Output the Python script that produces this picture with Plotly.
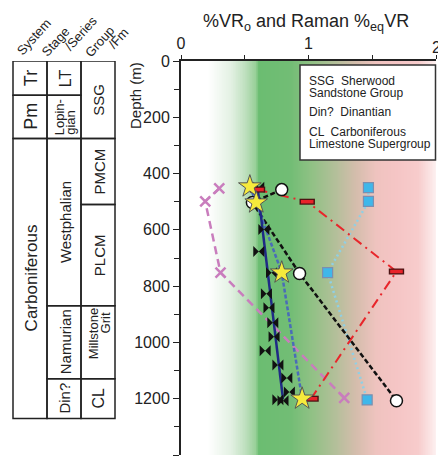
import numpy as np
import plotly.graph_objects as go

W, H = 438, 463

# ---- thermal maturity samples (%VR / Raman %eqVR vs depth in m) ----
star_vr = [0.54, 0.59, 0.79, 0.95]
star_depth = [446, 503, 752, 1200]

circle_vr = [0.79, 0.56, 0.93, 1.69]
circle_depth = [457, 503, 755, 1207]

rect_vr = [0.60, 0.99, 1.69, 1.02]
rect_depth = [457, 500, 748, 1200]

square_vr = [1.47, 1.47, 1.15, 1.46]
square_depth = [450, 499, 752, 1204]

cross_vr = [0.30, 0.19, 0.31, 1.28]
cross_depth = [453, 499, 752, 1197]

bowtie_vr = [0.61, 0.65, 0.61, 0.71, 0.67, 0.69, 0.72, 0.73, 0.66, 0.76,
             0.83, 0.85, 0.76, 0.80]
bowtie_depth = [449, 599, 677, 752, 827, 877, 930, 980, 1030, 1080,
                1126, 1176, 1204, 1207]

trend_vr = [0.60, 0.80]
trend_depth = [449, 1201]

x_ticks = [0, 1, 2]

# ---- stratigraphic column (unit tops / bases in m) ----
system_labels = [["Tr"], ["Pm"], ["Carboniferous"]]
system_tops = [0, 122, 275]
system_bases = [122, 275, 1270]

stage_labels = [["LT"], ["Lopin-", "gian"], ["Westphalian"], ["Namurian"], ["Din?"]]
stage_tops = [0, 122, 275, 870, 1129]
stage_bases = [122, 275, 870, 1129, 1270]

group_labels = [["SSG"], ["PMCM"], ["PLCM"], ["Millstone", "Grit"], ["CL"]]
group_tops = [0, 275, 510, 870, 1129]
group_bases = [275, 510, 870, 1129, 1270]

header_labels = ["System", "Stage", "/Series", "Group", "/Fm"]

key_lines = ["SSG  Sherwood", "Sandstone Group", "Din?  Dinantian",
             "CL  Carboniferous", "Limestone Supergroup"]

# maturity background colour stops along the %VR axis
bg_stops = [(0.0, "#ffffff"), (0.21, "#ffffff"), (0.39, "#e3f1e3"),
            (0.50, "#bfe0bf"), (0.583, "#98d098"), (0.606, "#6bbd71"),
            (0.86, "#72bd75"), (1.016, "#8fc184"), (1.213, "#b4bf9a"),
            (1.37, "#d4bdac"), (1.528, "#efc3bf"), (1.685, "#f5c5c5"),
            (1.86, "#f7cccc"), (2.0, "#fdf1f1")]

FONT = "Liberation Sans, Arial, Helvetica, sans-serif"
INK = "#222222"


def px(x):
    return x / W


def py(y):
    return 1 - y / H


fig = go.Figure()

# background maturity gradient
bg_x = np.linspace(0, 2, 401)
fig.add_trace(go.Heatmap(
    x=bg_x, y=[-100, 1500], z=[bg_x, bg_x],
    colorscale=[[v / 2, c] for v, c in bg_stops], zmin=0, zmax=2,
    showscale=False, hoverinfo="skip", zsmooth="best"))

# connecting lines
fig.add_trace(go.Scatter(x=cross_vr, y=cross_depth, mode="lines",
                         line=dict(color="#c97dbd", width=2.5, dash="8px,5px")))
fig.add_trace(go.Scatter(x=square_vr, y=square_depth, mode="lines",
                         line=dict(color="#8fd0e6", width=2.5, dash="2px,3px")))
fig.add_trace(go.Scatter(x=rect_vr, y=rect_depth, mode="lines",
                         line=dict(color="#e8262b", width=2, dash="10px,5px,2px,5px")))
fig.add_trace(go.Scatter(x=circle_vr, y=circle_depth, mode="lines",
                         line=dict(color="#111111", width=2.5, dash="5px,2.5px")))
fig.add_trace(go.Scatter(x=star_vr, y=star_depth, mode="lines",
                         line=dict(color="#4a6cb8", width=2.5, dash="4px,2px")))
fig.add_trace(go.Scatter(x=trend_vr, y=trend_depth, mode="lines",
                         line=dict(color="#1f2a86", width=2.5)))

# markers
fig.add_trace(go.Scatter(x=bowtie_vr, y=bowtie_depth, mode="markers",
                         marker=dict(symbol="bowtie", size=11, color="#111111")))
fig.add_trace(go.Scatter(x=cross_vr, y=cross_depth, mode="markers",
                         marker=dict(symbol="x-thin", size=10,
                                     line=dict(color="#c97dbd", width=2.5))))
fig.add_trace(go.Scatter(x=square_vr, y=square_depth, mode="markers",
                         marker=dict(symbol="square", size=10, color="#3fb7ea",
                                     line=dict(color="#7b8fb0", width=1.2))))
fig.add_trace(go.Scatter(x=rect_vr, y=rect_depth, mode="markers",
                         marker=dict(symbol="line-ew", size=11,
                                     line=dict(color="#4a1212", width=6))))
fig.add_trace(go.Scatter(x=rect_vr, y=rect_depth, mode="markers",
                         marker=dict(symbol="line-ew", size=9,
                                     line=dict(color="#e8232a", width=3.5))))
fig.add_trace(go.Scatter(x=circle_vr, y=circle_depth, mode="markers",
                         marker=dict(symbol="circle", size=12, color="white",
                                     line=dict(color="#111111", width=1.5))))
fig.add_trace(go.Scatter(x=star_vr, y=star_depth, mode="markers",
                         marker=dict(symbol="star", size=17, color="#f6ea3c",
                                     line=dict(color="#555555", width=1))))

shapes = []
annotations = []

# stratigraphic column boxes and labels
columns = [
    (13, 47, system_labels, system_tops, system_bases, 17),
    (47, 81, stage_labels, stage_tops, stage_bases, 15),
    (81, 115, group_labels, group_tops, group_bases, 15),
]
for x0, x1, labels, tops, bases, fsize in columns:
    for lab, top, base in zip(labels, tops, bases):
        shapes.append(dict(type="rect", xref="paper", yref="y",
                           x0=px(x0), x1=px(x1), y0=top, y1=base,
                           line=dict(color=INK, width=1.5)))
        mid = (top + base) / 2
        xc = (x0 + x1) / 2
        if len(lab) == 1:
            size = 18 if lab[0] in ("Tr", "Pm") else (16 if lab[0] in ("LT", "CL") else fsize)
            annotations.append(dict(xref="paper", yref="y", x=px(xc + 1), y=mid,
                                    text=lab[0], showarrow=False, textangle=-90,
                                    font=dict(size=size, family=FONT, color=INK),
                                    xanchor="center", yanchor="middle"))
        else:
            gap = 12
            for i, line in enumerate(lab):
                xi = xc + (i - (len(lab) - 1) / 2) * gap + 1
                if lab[0] == "Lopin-":
                    anchor, yv = "bottom", base - 4
                else:
                    anchor, yv = "top", top + 3 + 15 * i
                annotations.append(dict(xref="paper", yref="y", x=px(xi), y=yv,
                                        text=line, showarrow=False, textangle=-90,
                                        font=dict(size=13, family=FONT, color=INK),
                                        xanchor="center", yanchor=anchor))

# column headers (slanted)
header_pos = [(33, 37), (56, 42), (81, 34), (100, 42), (118, 38)]
for text, (hx, hy) in zip(header_labels, header_pos):
    annotations.append(dict(xref="paper", yref="paper", x=px(hx), y=py(hy),
                            text=text, showarrow=False, textangle=-48,
                            font=dict(size=13, family=FONT, color=INK),
                            xanchor="center", yanchor="middle"))

# axis titles
annotations.append(dict(xref="paper", yref="paper", x=px(306), y=py(22),
                        text="%VR<sub>o</sub> and Raman %<sub>eq</sub>VR",
                        showarrow=False, font=dict(size=18, family=FONT, color=INK),
                        xanchor="center", yanchor="middle"))
annotations.append(dict(xref="paper", yref="paper", x=px(135), y=py(96),
                        text="Depth (m)", showarrow=False, textangle=-90,
                        font=dict(size=15, family=FONT, color=INK),
                        xanchor="center", yanchor="middle"))

# last top tick label sits on the right page edge
annotations.append(dict(xref="x", yref="paper", x=x_ticks[-1], y=py(47),
                        text=str(x_ticks[-1]), showarrow=False,
                        font=dict(size=16, family=FONT, color=INK),
                        xanchor="center", yanchor="middle"))

# abbreviation key
shapes.append(dict(type="rect", xref="paper", yref="paper",
                   x0=px(300), x1=px(435.5), y0=py(160), y1=py(65),
                   fillcolor="white", line=dict(color="#333333", width=1.5)))
key_y = [81, 93, 112, 132, 144]
for text, ky in zip(key_lines, key_y):
    annotations.append(dict(xref="paper", yref="paper", x=px(307), y=py(ky),
                            text=text, showarrow=False,
                            font=dict(size=12, family=FONT, color=INK),
                            xanchor="left", yanchor="middle"))

fig.update_layout(
    width=W, height=H, margin=dict(l=0, r=0, t=0, b=0),
    paper_bgcolor="white", plot_bgcolor="white", showlegend=False,
    font=dict(family=FONT, color=INK),
    shapes=shapes, annotations=annotations,
)
fig.update_xaxes(domain=[px(181), px(436)], range=[0, 2], side="top",
                 showline=True, linewidth=2, linecolor=INK, mirror=False,
                 ticks="outside", ticklen=4, tickwidth=1.2, tickcolor=INK,
                 tickvals=x_ticks[:-1], ticktext=[str(t) for t in x_ticks[:-1]],
                 minor=dict(dtick=0.5, ticks="outside", ticklen=4, tickcolor=INK, tickwidth=1.2),
                 tickfont=dict(size=16, family=FONT, color=INK),
                 showgrid=False, zeroline=False, automargin=False)
fig.update_yaxes(domain=[py(455), py(61)], range=[1400, 0],
                 showline=True, linewidth=2, linecolor=INK,
                 ticks="outside", ticklen=6, tickwidth=1.2, tickcolor=INK,
                 dtick=200, tick0=0,
                 minor=dict(dtick=100, ticks="outside", ticklen=5, tickcolor=INK, tickwidth=1.2),
                 tickfont=dict(size=16, family=FONT, color=INK),
                 showgrid=False, zeroline=False, automargin=False)

fig.write_html("out.html")
